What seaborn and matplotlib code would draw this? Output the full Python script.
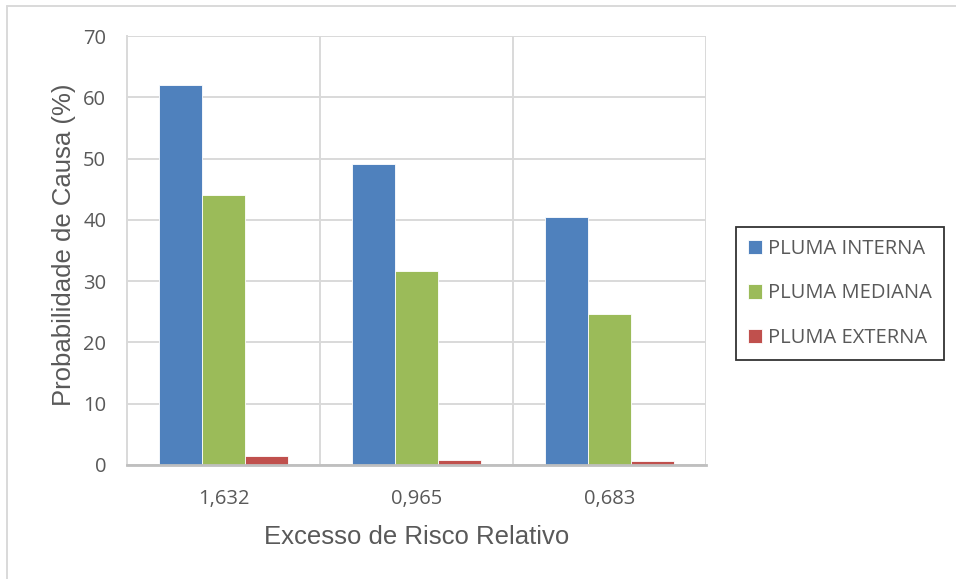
import matplotlib
matplotlib.use("Agg")
import matplotlib.pyplot as plt
import seaborn as sns
import pandas as pd
from matplotlib.lines import Line2D

# Excess relative risk categories and probability of causation per plume zone
categories = ["1,632", "0,965", "0,683"]
series_names = ["PLUMA INTERNA", "PLUMA MEDIANA", "PLUMA EXTERNA"]
pluma_interna = [62.0, 49.1, 40.5]
pluma_mediana = [44.0, 31.7, 24.7]
pluma_externa = [1.5, 0.8, 0.6]
y_ticks = [0, 10, 20, 30, 40, 50, 60, 70]

colors = ["#4F81BD", "#9BBB59", "#C0504D"]
grid_color = "#D9D9D9"
text_color = "#595959"

rows = []
for name, vals in zip(series_names, [pluma_interna, pluma_mediana, pluma_externa]):
    for cat, v in zip(categories, vals):
        rows.append({"Excesso": cat, "Pluma": name, "Valor": v})
df = pd.DataFrame(rows)

sns.set_style("white")
plt.rcParams["font.family"] = ["Open Sans", "DejaVu Sans"]

fig = plt.figure(figsize=(9.56, 5.79), dpi=100)
W, H = 956, 579
ax = fig.add_axes([127 / W, 1 - 465 / H, (706 - 127) / W, (465 - 36) / H])

sns.barplot(data=df, x="Excesso", y="Valor", hue="Pluma", order=categories,
            hue_order=series_names, palette=colors, width=0.67, gap=0,
            edgecolor="white", linewidth=0.6, saturation=1, ax=ax, zorder=3)

ax.set_xlim(-0.5, len(categories) - 0.5)
ax.set_ylim(0, 70)
ax.set_yticks(y_ticks)
ax.yaxis.grid(True, color=grid_color, linewidth=1.4, zorder=0)
for xb in [0.5, 1.5, 2.5]:
    ax.axvline(xb, color=grid_color, linewidth=1.4, zorder=0)

for s in ["top", "right"]:
    ax.spines[s].set_visible(False)
ax.spines["left"].set_color(grid_color)
ax.spines["left"].set_linewidth(1.4)
ax.spines["bottom"].set_color("#BFBFBF")
ax.spines["bottom"].set_linewidth(2.0)
ax.spines["bottom"].set_zorder(4)

ax.tick_params(axis="both", length=0, labelsize=14.5, labelcolor=text_color)
ax.tick_params(axis="y", pad=15)
ax.tick_params(axis="x", pad=17)

ax.set_xlabel("Excesso de Risco Relativo", fontsize=18.5, color=text_color,
              family=["Liberation Sans", "DejaVu Sans"], labelpad=12)
ax.set_ylabel("Probabilidade de Causa (%)", fontsize=18.5, color=text_color,
              family=["Liberation Sans", "DejaVu Sans"], labelpad=5)
ax.yaxis.label.set_y((465 - 245) / (465 - 36))

handles, labels = ax.get_legend_handles_labels()
ax.get_legend().remove()
leg = fig.legend(handles, labels, loc="center left",
                 bbox_to_anchor=(736 / W, 1 - 293.5 / H),
                 frameon=True, fancybox=False, edgecolor="black",
                 fontsize=14.5, labelcolor=text_color,
                 handlelength=0.7, handleheight=0.7, handletextpad=0.3,
                 labelspacing=1.2, borderpad=0.6, borderaxespad=0)
leg.get_frame().set_linewidth(1.3)

# outer chart border
fig.add_artist(Line2D([7 / W, 1.0], [1 - 6 / H, 1 - 6 / H], color=grid_color,
                      linewidth=1.4, transform=fig.transFigure))
fig.add_artist(Line2D([7 / W, 7 / W], [1 - 6 / H, 0.0], color=grid_color,
                      linewidth=1.4, transform=fig.transFigure))

fig.savefig("out.png", dpi=100)
